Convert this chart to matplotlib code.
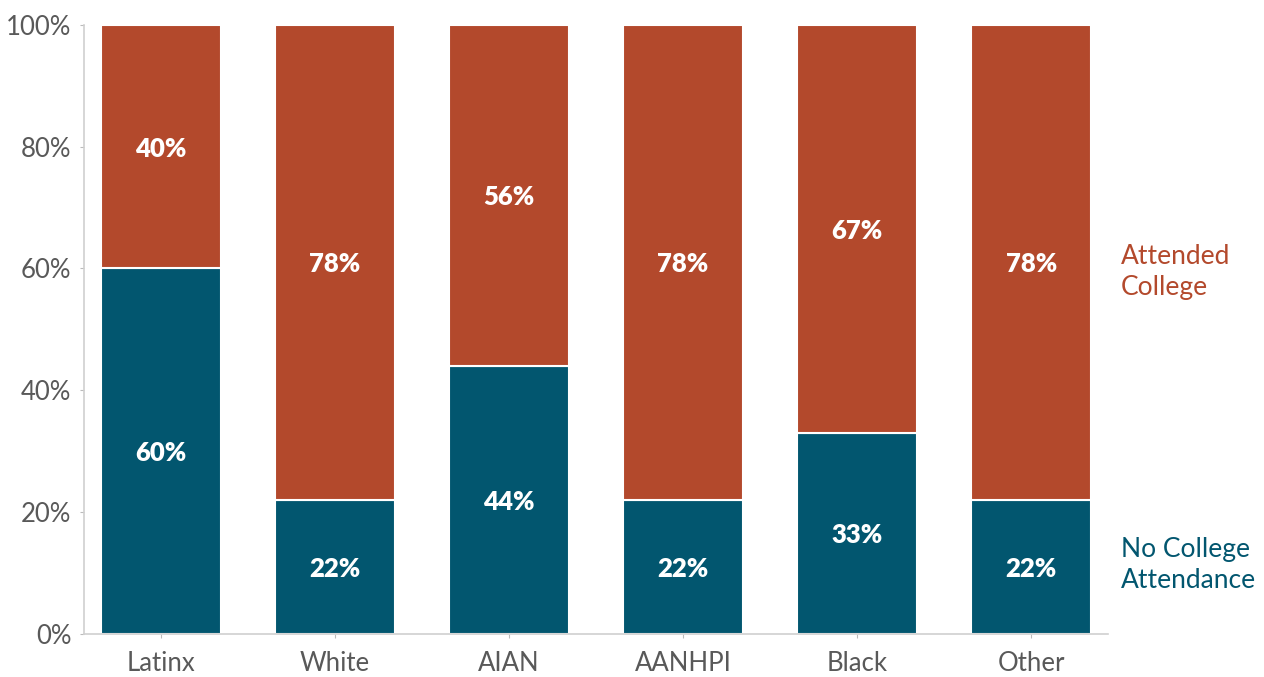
import matplotlib.pyplot as plt
import matplotlib.transforms as mtransforms
import numpy as np

groups = ["Latinx", "White", "AIAN", "AANHPI", "Black", "Other"]
no_college = [60, 22, 44, 22, 33, 22]
attended = [40, 78, 56, 78, 67, 78]

teal = "#02566F"
rust = "#B3492C"
grey = "#595959"

plt.rcParams['font.family'] = ['Lato', 'DejaVu Sans']

fig = plt.figure(figsize=(12.64, 6.77), dpi=100)
ax = fig.add_axes([0.0665, 0.0635, 0.81, 0.9])

x = np.arange(len(groups))
b1 = ax.bar(x, no_college, width=0.69, color=teal, edgecolor="white", linewidth=1.5)
b2 = ax.bar(x, attended, width=0.69, bottom=no_college, color=rust, edgecolor="white", linewidth=1.5)

for i in range(len(groups)):
    ax.text(x[i], no_college[i] / 2, f"{no_college[i]}%", ha="center", va="center_baseline",
            color="white", fontsize=18.5, fontweight="heavy")
    ax.text(x[i], no_college[i] + attended[i] / 2, f"{attended[i]}%", ha="center", va="center_baseline",
            color="white", fontsize=18.5, fontweight="heavy")

ax.set_xlim(-0.44, len(groups) - 1 + 0.44)
ax.set_ylim(0, 100)
ax.set_yticks([0, 20, 40, 60, 80, 100])
ax.set_yticklabels([f"{v}%" for v in [0, 20, 40, 60, 80, 100]])
ax.set_xticks(x)
ax.set_xticklabels(groups)
ax.tick_params(axis="both", colors="#bbbbbb", labelcolor=grey, labelsize=18.5, length=3)
ax.tick_params(axis="x", pad=9)
ax.tick_params(axis="y", pad=6)

for s in ["top", "right"]:
    ax.spines[s].set_visible(False)
for s in ["left", "bottom"]:
    ax.spines[s].set_color("#d0d0d0")
    ax.spines[s].set_linewidth(1.2)

trans = mtransforms.blended_transform_factory(ax.transAxes, ax.transData)
ax.text(1.013, 59.4, "Attended\nCollege", transform=trans, color=rust, fontsize=19,
        va="center", ha="left", linespacing=1.3)
ax.text(1.013, 11.3, "No College\nAttendance", transform=trans, color=teal, fontsize=19,
        va="center", ha="left", linespacing=1.3)

fig.savefig("out.png", dpi=100)
